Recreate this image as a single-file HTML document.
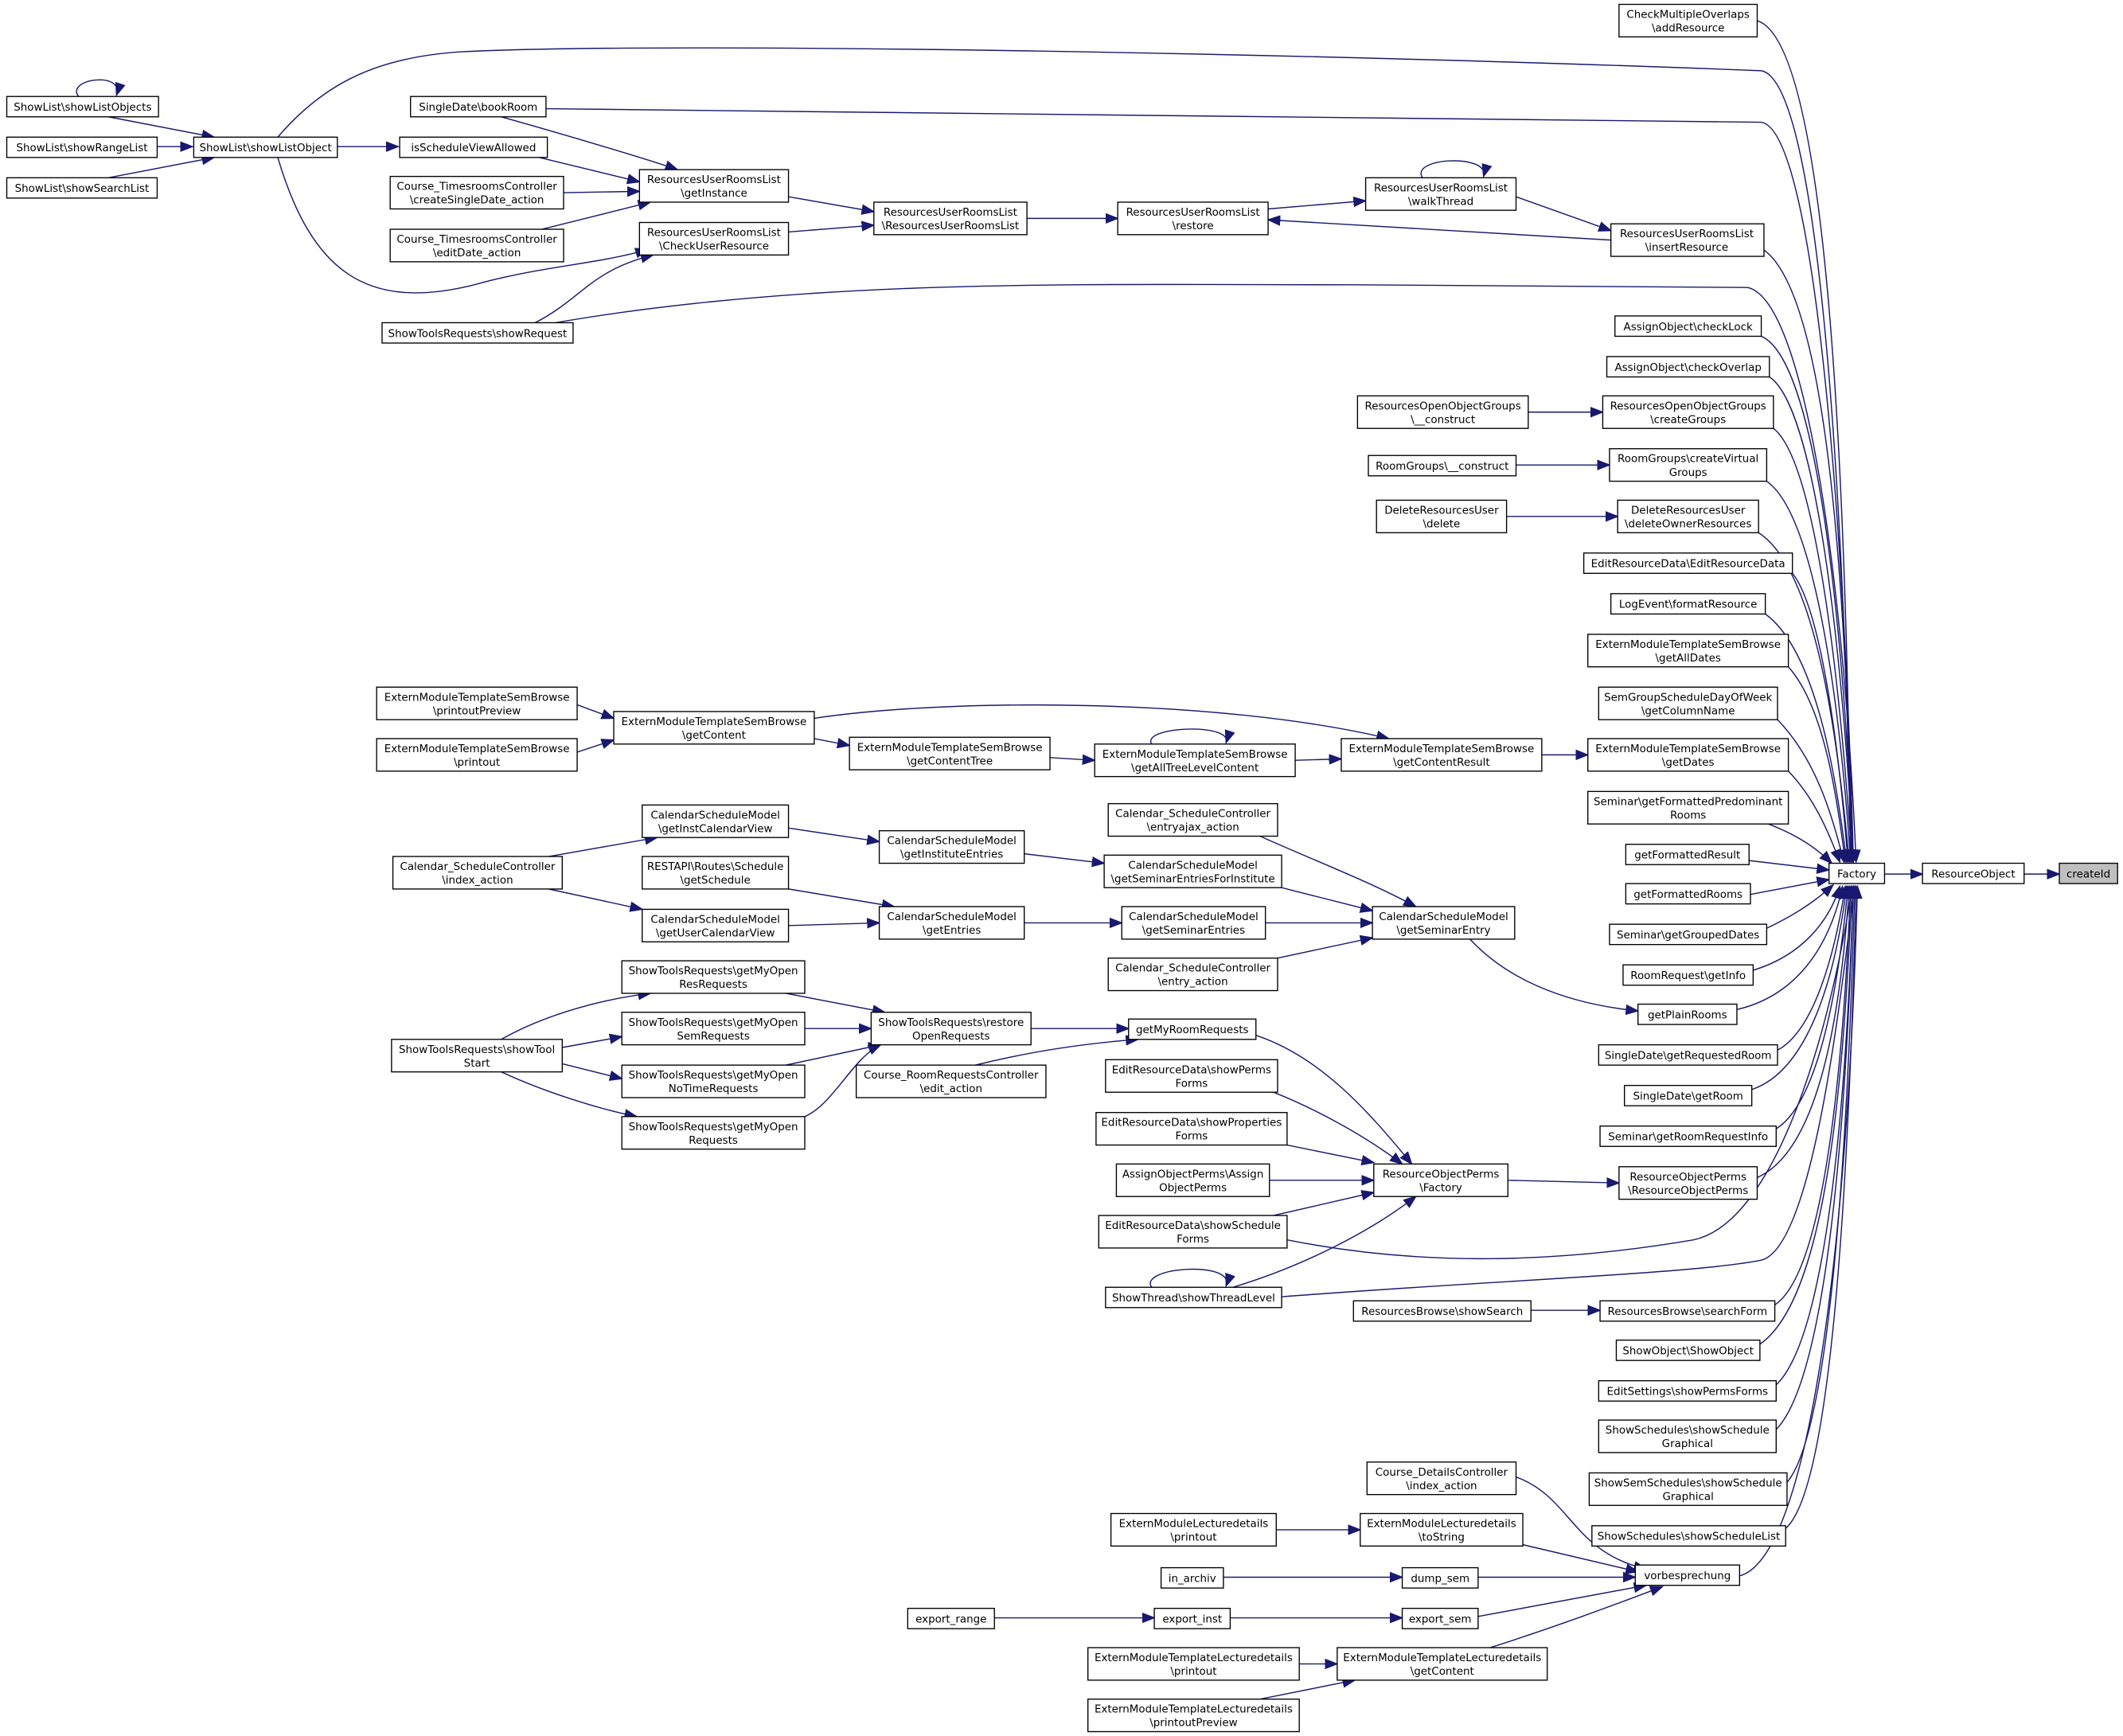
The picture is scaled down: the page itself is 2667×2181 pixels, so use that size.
<!DOCTYPE html>
<html><head><meta charset="utf-8"><style>
html,body{margin:0;padding:0;background:#fff;}
svg{display:block;}
text{font-family:"DejaVu Sans","Liberation Sans",sans-serif;font-size:7.9px;fill:#000;text-anchor:middle;}
.n{fill:#fff;stroke:#000;stroke-width:0.8;}
.g{fill:#bfbfbf;stroke:#000;stroke-width:0.8;}
.e{fill:none;stroke:#191970;stroke-width:0.85;marker-end:url(#a);}
</style></head><body>
<svg width="2667" height="2181" viewBox="0 0 1567 1281" xmlns="http://www.w3.org/2000/svg">
<defs><marker id="a" markerUnits="userSpaceOnUse" markerWidth="10" markerHeight="8" refX="9" refY="4" orient="auto"><path d="M0,0.5 L9,4 L0,7.5 Z" fill="#191970" stroke="#191970" stroke-width="0.8"/></marker></defs>

<!-- edges -->
<path class="e" d="M80,86 L158,101"/>
<path class="e" d="M116,108 L142,108"/>
<path class="e" d="M80,131 L158,116"/>
<path class="e" d="M58,71 C48,58 92,52 86,70"/>
<path class="e" d="M249,108 L294,108"/>
<path class="e" d="M205,101 C240,60 280,42 340,38 C500,30 1000,40 1300,52 C1345,60 1362,400 1366,636"/>
<path class="e" d="M205,116 C230,200 270,230 350,210 C400,196 440,195 478,184"/>
<path class="e" d="M370,86 C420,100 480,118 500,125"/>
<path class="e" d="M403,80 L1300,90 C1340,96 1362,400 1368,636"/>
<path class="e" d="M398,116 L472,134"/>
<path class="e" d="M416,142 L472,141"/>
<path class="e" d="M400,169 L480,149"/>
<path class="e" d="M395,238 C430,220 435,200 482,188"/>
<path class="e" d="M410,238 C600,205 800,210 1000,210 L1290,212 C1335,222 1362,450 1370,636"/>
<path class="e" d="M582,145 L645,156"/>
<path class="e" d="M582,171 L645,166"/>
<path class="e" d="M758,161 L825,161"/>
<path class="e" d="M936,154 L1008,148"/>
<path class="e" d="M1050,131 C1040,116 1100,113 1095,130"/>
<path class="e" d="M1119,145 L1189,170"/>
<path class="e" d="M1189,177 L936,162"/>
<path class="e" d="M1297,15 C1345,30 1362,300 1366,636"/>
<path class="e" d="M1300,183 C1345,210 1362,400 1367,636"/>
<path class="e" d="M1300,248 C1340,265 1360,450 1368,636"/>
<path class="e" d="M1306,278 C1340,300 1360,480 1368,636"/>
<path class="e" d="M1309,316 C1340,340 1358,500 1367,636"/>
<path class="e" d="M1304,355 C1340,380 1358,520 1366,636"/>
<path class="e" d="M1298,393 C1340,420 1356,540 1365,636"/>
<path class="e" d="M1323,423 C1345,450 1358,560 1364,636"/>
<path class="e" d="M1303,453 C1340,480 1355,570 1363,636"/>
<path class="e" d="M1320,492 C1345,520 1355,580 1362,636"/>
<path class="e" d="M1312,531 C1340,560 1352,600 1361,636"/>
<path class="e" d="M1320,569 C1340,590 1350,615 1358,636"/>
<path class="e" d="M1300,606 C1325,615 1340,625 1352,637"/>
<path class="e" d="M1291,635 L1350,642"/>
<path class="e" d="M1292,660 L1350,649"/>
<path class="e" d="M1304,685 C1325,675 1340,665 1353,653"/>
<path class="e" d="M1294,716 C1330,705 1350,680 1358,654"/>
<path class="e" d="M1282,745 C1325,735 1350,700 1360,654"/>
<path class="e" d="M1312,775 C1340,760 1355,700 1362,654"/>
<path class="e" d="M1293,804 C1335,790 1355,720 1363,654"/>
<path class="e" d="M1311,833 C1340,815 1356,740 1364,654"/>
<path class="e" d="M1297,869 C1340,850 1358,760 1365,654"/>
<path class="e" d="M1310,963 C1345,940 1360,800 1366,654"/>
<path class="e" d="M1299,992 C1345,960 1360,820 1367,654"/>
<path class="e" d="M1311,1022 C1345,990 1362,840 1368,654"/>
<path class="e" d="M1311,1055 C1345,1020 1362,860 1368,654"/>
<path class="e" d="M1319,1094 C1348,1060 1363,880 1369,654"/>
<path class="e" d="M1318,1128 C1350,1100 1364,900 1370,654"/>
<path class="e" d="M1284,1163 C1335,1150 1364,920 1371,654"/>
<path class="e" d="M1128,304 L1183,304"/>
<path class="e" d="M1119,343 L1188,343"/>
<path class="e" d="M1112,381 L1194,381"/>
<path class="e" d="M426,520 L453,530"/>
<path class="e" d="M426,555 L453,546"/>
<path class="e" d="M601,545 L627,550"/>
<path class="e" d="M601,530 C700,515 900,515 1025,545"/>
<path class="e" d="M775,559 L808,561"/>
<path class="e" d="M850,549 C842,536 910,533 905,548"/>
<path class="e" d="M956,561 L990,560"/>
<path class="e" d="M1138,557 L1172,557"/>
<path class="e" d="M405,632 L485,618"/>
<path class="e" d="M405,656 L474,671"/>
<path class="e" d="M582,611 L649,621"/>
<path class="e" d="M582,656 L660,669"/>
<path class="e" d="M582,683 L649,681"/>
<path class="e" d="M756,630 L815,637"/>
<path class="e" d="M756,681 L828,681"/>
<path class="e" d="M930,617 C970,635 1010,650 1045,669"/>
<path class="e" d="M946,655 L1013,672"/>
<path class="e" d="M934,681 L1013,681"/>
<path class="e" d="M943,707 L1013,692"/>
<path class="e" d="M1085,693 C1110,720 1150,740 1209,746"/>
<path class="e" d="M370,767 C400,750 440,738 480,733"/>
<path class="e" d="M415,773 L459,765"/>
<path class="e" d="M415,785 L459,796"/>
<path class="e" d="M370,791 C400,805 440,818 470,824"/>
<path class="e" d="M580,733 L653,747"/>
<path class="e" d="M594,759 L643,759"/>
<path class="e" d="M580,786 L650,771"/>
<path class="e" d="M594,824 C615,815 630,780 650,771"/>
<path class="e" d="M761,759 L833,759"/>
<path class="e" d="M720,786 C760,776 800,770 840,767"/>
<path class="e" d="M927,764 C975,780 1010,820 1042,859"/>
<path class="e" d="M940,806 C975,820 1010,840 1035,859"/>
<path class="e" d="M950,845 L1014,858"/>
<path class="e" d="M937,871 L1014,871"/>
<path class="e" d="M940,897 L1014,880"/>
<path class="e" d="M910,950 C960,935 1010,910 1045,883"/>
<path class="e" d="M850,950 C840,935 912,930 905,949"/>
<path class="e" d="M1113,871 L1195,873"/>
<path class="e" d="M950,915 C1050,935 1150,932 1250,915 C1320,900 1358,720 1367,654"/>
<path class="e" d="M946,957 C1100,945 1250,940 1300,930 C1340,920 1360,720 1369,654"/>
<path class="e" d="M1130,967 L1181,967"/>
<path class="e" d="M1119,1090 C1160,1105 1160,1145 1215,1158"/>
<path class="e" d="M1124,1140 L1209,1160"/>
<path class="e" d="M1091,1164 L1207,1164"/>
<path class="e" d="M1091,1193 L1215,1170"/>
<path class="e" d="M1100,1216 C1150,1200 1190,1185 1227,1171"/>
<path class="e" d="M942,1129 L1004,1129"/>
<path class="e" d="M903,1164 L1035,1164"/>
<path class="e" d="M734,1194 L852,1194"/>
<path class="e" d="M908,1194 L1035,1194"/>
<path class="e" d="M959,1228 L987,1228"/>
<path class="e" d="M930,1254 L1000,1240"/>
<path class="e" d="M1391,645 L1419,645"/>
<path class="e" d="M1494,645 L1520,645"/>

<!-- nodes -->
<g>
<rect class="n" x="1195" y="3" width="102" height="24"/><text x="1246" y="13">CheckMultipleOverlaps</text><text x="1246" y="23">\addResource</text>
<rect class="n" x="1189" y="165" width="113" height="24"/><text x="1245" y="175">ResourcesUserRoomsList</text><text x="1245" y="185">\insertResource</text>
<rect class="n" x="1192" y="233" width="108" height="15"/><text x="1246" y="243.5">AssignObject\checkLock</text>
<rect class="n" x="1186" y="263" width="120" height="15"/><text x="1246" y="273.5">AssignObject\checkOverlap</text>
<rect class="n" x="1183" y="292" width="126" height="24"/><text x="1246" y="302">ResourcesOpenObjectGroups</text><text x="1246" y="312">\createGroups</text>
<rect class="n" x="1188" y="331" width="116" height="24"/><text x="1246" y="341">RoomGroups\createVirtual</text><text x="1246" y="351">Groups</text>
<rect class="n" x="1194" y="369" width="104" height="24"/><text x="1246" y="379">DeleteResourcesUser</text><text x="1246" y="389">\deleteOwnerResources</text>
<rect class="n" x="1169" y="408" width="154" height="15"/><text x="1246" y="418.5">EditResourceData\EditResourceData</text>
<rect class="n" x="1189" y="438" width="114" height="15"/><text x="1246" y="448.5">LogEvent\formatResource</text>
<rect class="n" x="1172" y="468" width="148" height="24"/><text x="1246" y="478">ExternModuleTemplateSemBrowse</text><text x="1246" y="488">\getAllDates</text>
<rect class="n" x="1180" y="507" width="132" height="24"/><text x="1246" y="517">SemGroupScheduleDayOfWeek</text><text x="1246" y="527">\getColumnName</text>
<rect class="n" x="1172" y="545" width="148" height="24"/><text x="1246" y="555">ExternModuleTemplateSemBrowse</text><text x="1246" y="565">\getDates</text>
<rect class="n" x="1172" y="584" width="148" height="24"/><text x="1246" y="594">Seminar\getFormattedPredominant</text><text x="1246" y="604">Rooms</text>
<rect class="n" x="1200" y="623" width="91" height="15"/><text x="1245.5" y="633.5">getFormattedResult</text>
<rect class="n" x="1200" y="652" width="92" height="15"/><text x="1246" y="662.5">getFormattedRooms</text>
<rect class="n" x="1188" y="682" width="116" height="15"/><text x="1246" y="692.5">Seminar\getGroupedDates</text>
<rect class="n" x="1198" y="712" width="96" height="15"/><text x="1246" y="722.5">RoomRequest\getInfo</text>
<rect class="n" x="1209" y="741" width="73" height="15"/><text x="1245.5" y="751.5">getPlainRooms</text>
<rect class="n" x="1180" y="771" width="132" height="15"/><text x="1246" y="781.5">SingleDate\getRequestedRoom</text>
<rect class="n" x="1199" y="801" width="94" height="15"/><text x="1246" y="811.5">SingleDate\getRoom</text>
<rect class="n" x="1181" y="831" width="130" height="15"/><text x="1246" y="841.5">Seminar\getRoomRequestInfo</text>
<rect class="n" x="1195" y="861" width="102" height="24"/><text x="1246" y="871">ResourceObjectPerms</text><text x="1246" y="881">\ResourceObjectPerms</text>
<rect class="n" x="1181" y="960" width="129" height="15"/><text x="1245.5" y="970.5">ResourcesBrowse\searchForm</text>
<rect class="n" x="1193" y="989" width="106" height="15"/><text x="1246" y="999.5">ShowObject\ShowObject</text>
<rect class="n" x="1180" y="1019" width="131" height="15"/><text x="1245.5" y="1029.5">EditSettings\showPermsForms</text>
<rect class="n" x="1180" y="1048" width="131" height="24"/><text x="1245.5" y="1058">ShowSchedules\showSchedule</text><text x="1245.5" y="1068">Graphical</text>
<rect class="n" x="1173" y="1087" width="146" height="24"/><text x="1246" y="1097">ShowSemSchedules\showSchedule</text><text x="1246" y="1107">Graphical</text>
<rect class="n" x="1175" y="1126" width="143" height="15"/><text x="1246.5" y="1136.5">ShowSchedules\showScheduleList</text>
<rect class="n" x="1207" y="1155" width="77" height="15"/><text x="1245.5" y="1165.5">vorbesprechung</text>
<rect class="n" x="1350" y="637" width="41" height="15"/><text x="1370.5" y="647.5">Factory</text>
<rect class="n" x="1419" y="637" width="75" height="15"/><text x="1456.5" y="647.5">ResourceObject</text>
<rect class="g" x="1520" y="637" width="43" height="15"/><text x="1541.5" y="647.5">createId</text>

<rect class="n" x="5" y="71" width="112" height="15"/><text x="61" y="81.5">ShowList\showListObjects</text>
<rect class="n" x="5" y="101" width="111" height="15"/><text x="60.5" y="111.5">ShowList\showRangeList</text>
<rect class="n" x="5" y="131" width="111" height="15"/><text x="60.5" y="141.5">ShowList\showSearchList</text>
<rect class="n" x="143" y="101" width="106" height="15"/><text x="196" y="111.5">ShowList\showListObject</text>
<rect class="n" x="303" y="71" width="100" height="15"/><text x="353" y="81.5">SingleDate\bookRoom</text>
<rect class="n" x="295" y="101" width="109" height="15"/><text x="349.5" y="111.5">isScheduleViewAllowed</text>
<rect class="n" x="288" y="130" width="128" height="24"/><text x="352" y="140">Course_TimesroomsController</text><text x="352" y="150">\createSingleDate_action</text>
<rect class="n" x="288" y="169" width="128" height="24"/><text x="352" y="179">Course_TimesroomsController</text><text x="352" y="189">\editDate_action</text>
<rect class="n" x="472" y="125" width="110" height="24"/><text x="527" y="135">ResourcesUserRoomsList</text><text x="527" y="145">\getInstance</text>
<rect class="n" x="472" y="164" width="110" height="24"/><text x="527" y="174">ResourcesUserRoomsList</text><text x="527" y="184">\CheckUserResource</text>
<rect class="n" x="282" y="238" width="141" height="15"/><text x="352.5" y="248.5">ShowToolsRequests\showRequest</text>
<rect class="n" x="645" y="149" width="113" height="24"/><text x="701.5" y="159">ResourcesUserRoomsList</text><text x="701.5" y="169">\ResourcesUserRoomsList</text>
<rect class="n" x="825" y="149" width="111" height="24"/><text x="880.5" y="159">ResourcesUserRoomsList</text><text x="880.5" y="169">\restore</text>
<rect class="n" x="1008" y="131" width="111" height="24"/><text x="1063.5" y="141">ResourcesUserRoomsList</text><text x="1063.5" y="151">\walkThread</text>
<rect class="n" x="1002" y="292" width="126" height="24"/><text x="1065" y="302">ResourcesOpenObjectGroups</text><text x="1065" y="312">\__construct</text>
<rect class="n" x="1010" y="336" width="109" height="15"/><text x="1064.5" y="346.5">RoomGroups\__construct</text>
<rect class="n" x="1016" y="369" width="96" height="24"/><text x="1064" y="379">DeleteResourcesUser</text><text x="1064" y="389">\delete</text>
<rect class="n" x="278" y="507" width="148" height="24"/><text x="352" y="517">ExternModuleTemplateSemBrowse</text><text x="352" y="527">\printoutPreview</text>
<rect class="n" x="278" y="545" width="148" height="24"/><text x="352" y="555">ExternModuleTemplateSemBrowse</text><text x="352" y="565">\printout</text>
<rect class="n" x="453" y="525" width="148" height="24"/><text x="527" y="535">ExternModuleTemplateSemBrowse</text><text x="527" y="545">\getContent</text>
<rect class="n" x="627" y="544" width="148" height="24"/><text x="701" y="554">ExternModuleTemplateSemBrowse</text><text x="701" y="564">\getContentTree</text>
<rect class="n" x="808" y="549" width="148" height="24"/><text x="882" y="559">ExternModuleTemplateSemBrowse</text><text x="882" y="569">\getAllTreeLevelContent</text>
<rect class="n" x="990" y="545" width="148" height="24"/><text x="1064" y="555">ExternModuleTemplateSemBrowse</text><text x="1064" y="565">\getContentResult</text>
<rect class="n" x="290" y="632" width="125" height="24"/><text x="352.5" y="642">Calendar_ScheduleController</text><text x="352.5" y="652">\index_action</text>
<rect class="n" x="474" y="594" width="108" height="24"/><text x="528" y="604">CalendarScheduleModel</text><text x="528" y="614">\getInstCalendarView</text>
<rect class="n" x="474" y="632" width="108" height="24"/><text x="528" y="642">RESTAPI\Routes\Schedule</text><text x="528" y="652">\getSchedule</text>
<rect class="n" x="474" y="671" width="108" height="24"/><text x="528" y="681">CalendarScheduleModel</text><text x="528" y="691">\getUserCalendarView</text>
<rect class="n" x="649" y="613" width="107" height="24"/><text x="702.5" y="623">CalendarScheduleModel</text><text x="702.5" y="633">\getInstituteEntries</text>
<rect class="n" x="649" y="669" width="107" height="24"/><text x="702.5" y="679">CalendarScheduleModel</text><text x="702.5" y="689">\getEntries</text>
<rect class="n" x="818" y="593" width="125" height="24"/><text x="880.5" y="603">Calendar_ScheduleController</text><text x="880.5" y="613">\entryajax_action</text>
<rect class="n" x="815" y="631" width="131" height="24"/><text x="880.5" y="641">CalendarScheduleModel</text><text x="880.5" y="651">\getSeminarEntriesForInstitute</text>
<rect class="n" x="828" y="669" width="106" height="24"/><text x="881" y="679">CalendarScheduleModel</text><text x="881" y="689">\getSeminarEntries</text>
<rect class="n" x="818" y="707" width="125" height="24"/><text x="880.5" y="717">Calendar_ScheduleController</text><text x="880.5" y="727">\entry_action</text>
<rect class="n" x="1013" y="669" width="105" height="24"/><text x="1065.5" y="679">CalendarScheduleModel</text><text x="1065.5" y="689">\getSeminarEntry</text>
<rect class="n" x="289" y="767" width="126" height="24"/><text x="352" y="777">ShowToolsRequests\showTool</text><text x="352" y="787">Start</text>
<rect class="n" x="459" y="709" width="135" height="24"/><text x="526.5" y="719">ShowToolsRequests\getMyOpen</text><text x="526.5" y="729">ResRequests</text>
<rect class="n" x="459" y="747" width="135" height="24"/><text x="526.5" y="757">ShowToolsRequests\getMyOpen</text><text x="526.5" y="767">SemRequests</text>
<rect class="n" x="459" y="786" width="135" height="24"/><text x="526.5" y="796">ShowToolsRequests\getMyOpen</text><text x="526.5" y="806">NoTimeRequests</text>
<rect class="n" x="459" y="824" width="135" height="24"/><text x="526.5" y="834">ShowToolsRequests\getMyOpen</text><text x="526.5" y="844">Requests</text>
<rect class="n" x="643" y="747" width="118" height="24"/><text x="702" y="757">ShowToolsRequests\restore</text><text x="702" y="767">OpenRequests</text>
<rect class="n" x="833" y="752" width="94" height="15"/><text x="880" y="762.5">getMyRoomRequests</text>
<rect class="n" x="632" y="786" width="140" height="24"/><text x="702" y="796">Course_RoomRequestsController</text><text x="702" y="806">\edit_action</text>
<rect class="n" x="816" y="782" width="127" height="24"/><text x="879.5" y="792">EditResourceData\showPerms</text><text x="879.5" y="802">Forms</text>
<rect class="n" x="809" y="821" width="141" height="24"/><text x="879.5" y="831">EditResourceData\showProperties</text><text x="879.5" y="841">Forms</text>
<rect class="n" x="824" y="859" width="113" height="24"/><text x="880.5" y="869">AssignObjectPerms\Assign</text><text x="880.5" y="879">ObjectPerms</text>
<rect class="n" x="811" y="897" width="139" height="24"/><text x="880.5" y="907">EditResourceData\showSchedule</text><text x="880.5" y="917">Forms</text>
<rect class="n" x="816" y="950" width="130" height="15"/><text x="881" y="960.5">ShowThread\showThreadLevel</text>
<rect class="n" x="1014" y="859" width="99" height="24"/><text x="1063.5" y="869">ResourceObjectPerms</text><text x="1063.5" y="879">\Factory</text>
<rect class="n" x="999" y="960" width="131" height="15"/><text x="1064.5" y="970.5">ResourcesBrowse\showSearch</text>
<rect class="n" x="1009" y="1079" width="110" height="24"/><text x="1064" y="1089">Course_DetailsController</text><text x="1064" y="1099">\index_action</text>
<rect class="n" x="820" y="1117" width="122" height="24"/><text x="881" y="1127">ExternModuleLecturedetails</text><text x="881" y="1137">\printout</text>
<rect class="n" x="1004" y="1117" width="120" height="24"/><text x="1064" y="1127">ExternModuleLecturedetails</text><text x="1064" y="1137">\toString</text>
<rect class="n" x="857" y="1157" width="46" height="15"/><text x="880" y="1167.5">in_archiv</text>
<rect class="n" x="1035" y="1157" width="56" height="15"/><text x="1063" y="1167.5">dump_sem</text>
<rect class="n" x="670" y="1187" width="64" height="15"/><text x="702" y="1197.5">export_range</text>
<rect class="n" x="852" y="1187" width="56" height="15"/><text x="880" y="1197.5">export_inst</text>
<rect class="n" x="1035" y="1187" width="56" height="15"/><text x="1063" y="1197.5">export_sem</text>
<rect class="n" x="803" y="1216" width="156" height="24"/><text x="881" y="1226">ExternModuleTemplateLecturedetails</text><text x="881" y="1236">\printout</text>
<rect class="n" x="987" y="1216" width="155" height="24"/><text x="1064.5" y="1226">ExternModuleTemplateLecturedetails</text><text x="1064.5" y="1236">\getContent</text>
<rect class="n" x="803" y="1254" width="156" height="24"/><text x="881" y="1264">ExternModuleTemplateLecturedetails</text><text x="881" y="1274">\printoutPreview</text>
</g>
</svg>
</body></html>
